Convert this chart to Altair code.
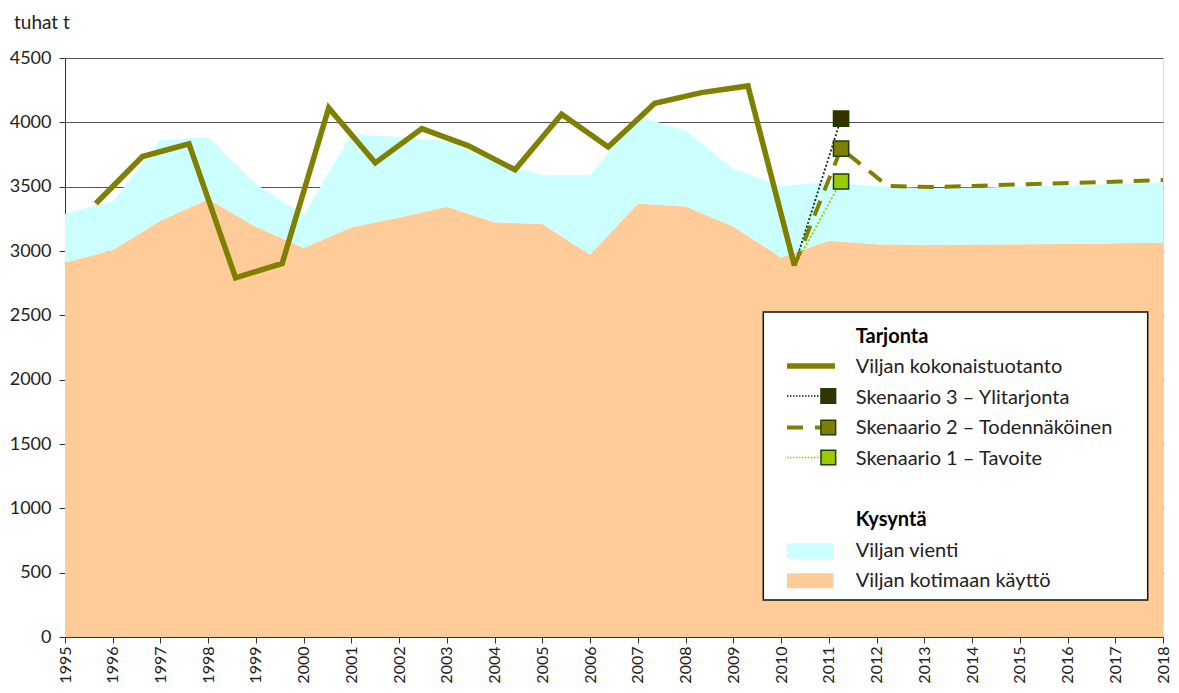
import altair as alt
import pandas as pd

# ---------------- data ----------------
years = list(range(1995, 2019))
domestic = [2911, 3007, 3235, 3403, 3188, 3023, 3185, 3260, 3343, 3224, 3209, 2971,
            3369, 3345, 3190, 2950, 3079, 3053, 3048, 3050, 3053, 3055, 3060, 3065]
export = [376, 378, 628, 481, 331, 257, 723, 626, 512, 476, 379, 617,
          681, 589, 450, 555, 455, 452, 440, 442, 447, 455, 460, 467]

prod_years = list(range(1995, 2011))
production = [3369, 3734, 3832, 2792, 2903, 4112, 3685, 3951, 3817, 3631, 4063, 3809,
              4148, 4231, 4283, 2885]

s3_years = [2010, 2011]
s3_values = [2885, 4029]
s1_years = [2010, 2011]
s1_values = [2885, 3540]
s2_years = [2010, 2011, 2012, 2013, 2014, 2015, 2016, 2017, 2018]
s2_values = [2885, 3796, 3505, 3497, 3508, 3519, 3530, 3540, 3552]

y_ticks = [0, 500, 1000, 1500, 2000, 2500, 3000, 3500, 4000, 4500]

unit_label = "tuhat t"
legend_head_supply = "Tarjonta"
legend_head_demand = "Kysyntä"
label_prod = "Viljan kokonaistuotanto"
label_s3 = "Skenaario 3 – Ylitarjonta"
label_s2 = "Skenaario 2 – Todennäköinen"
label_s1 = "Skenaario 1 – Tavoite"
label_export = "Viljan vienti"
label_domestic = "Viljan kotimaan käyttö"

# ---------------- styling ----------------
FONT = "Lato"
C_DOM = "#FFCC99"
C_EXP = "#CCFFFF"
C_PROD = "#808000"
C_S3 = "#333300"
C_S3_LINE = "#003300"
C_S1 = "#99CC00"
C_EDGE = "#1F3F00"

W, H = 1098, 579

area_df = pd.DataFrame({"year": years, "domestic": domestic, "export": export})
prod_df = pd.DataFrame({"year": prod_years, "value": production})
s3_df = pd.DataFrame({"year": s3_years, "value": s3_values})
s1_df = pd.DataFrame({"year": s1_years, "value": s1_values})
s2_df = pd.DataFrame({"year": s2_years, "value": s2_values})

yscale = alt.Scale(domain=[0, 4500], nice=False, zero=True)
xscale_area = alt.Scale(domain=[1995, 2018], nice=False, zero=False)
# secondary (hidden) category-like axis used by the line series, as in the original
xscale_line = alt.Scale(domain=[1994.338, 2017.912], nice=False, zero=False)

x_axis = alt.Axis(values=years, format="d", labelAngle=-90, labelFontSize=16,
                  labelPadding=3, tickSize=6, grid=False, labelFlush=False,
                  labelOverlap=False, title=None, labelFont=FONT,
                  domainColor="#333333", tickColor="#333333", labelColor="#222222")
y_axis = alt.Axis(values=y_ticks, format="d", labelFontSize=18, labelPadding=8,
                  tickSize=6, grid=True, gridColor="#555555", gridWidth=1, title=None,
                  labelFlush=False, labelFont=FONT, labelOverlap=False,
                  domainColor="#333333", tickColor="#333333", labelColor="#222222")

dom_area = alt.Chart(area_df).mark_area(color=C_DOM, opacity=1).encode(
    x=alt.X("year:Q", scale=xscale_area, axis=x_axis),
    y=alt.Y("domestic:Q", scale=yscale, axis=y_axis),
)
exp_area = alt.Chart(area_df).transform_calculate(
    total="datum.domestic + datum.export"
).mark_area(color=C_EXP, opacity=1).encode(
    x=alt.X("year:Q", scale=xscale_area, axis=None),
    y=alt.Y("total:Q", scale=yscale, axis=y_axis),
    y2="domestic:Q",
)


def line_layer(df, color, width, dash=None):
    kw = dict(color=color, strokeWidth=width, clip=True, strokeCap="butt")
    if dash:
        kw["strokeDash"] = dash
    return alt.Chart(df).mark_line(**kw).encode(
        x=alt.X("year:Q", scale=xscale_line, axis=None),
        y=alt.Y("value:Q", scale=yscale, axis=y_axis),
    )


prod_line = line_layer(prod_df, C_PROD, 5.5)
s3_line = line_layer(s3_df, C_S3_LINE, 1.8, [2, 2])
s1_line = line_layer(s1_df, C_S1, 1.8, [2, 2])
s2_line = line_layer(s2_df, C_PROD, 4, [16, 11])


def marker(df, year, fill):
    return alt.Chart(df).transform_filter(alt.datum.year == year).mark_square(
        size=230, filled=True, color=fill, stroke=C_EDGE, strokeWidth=1.5, opacity=1
    ).encode(
        x=alt.X("year:Q", scale=xscale_line, axis=None),
        y=alt.Y("value:Q", scale=yscale, axis=y_axis),
    )


m3 = marker(s3_df, 2011, C_S3)
m2 = marker(s2_df, 2011, C_PROD)
m1 = marker(s1_df, 2011, C_S1)

# ---------------- custom legend box ----------------
one = pd.DataFrame({"k": [0]})


def vtext(txt, x, y, bold=False, size=20, color="#222222"):
    return alt.Chart(one).mark_text(
        text=txt, align="left", baseline="alphabetic", font=FONT, fontSize=size,
        fontWeight="bold" if bold else "normal", color=color
    ).encode(x=alt.value(x), y=alt.value(y))


def vrule(x1, x2, y, color, width, dash=None):
    kw = dict(color=color, strokeWidth=width, strokeCap="butt")
    if dash:
        kw["strokeDash"] = dash
    return alt.Chart(one).mark_rule(**kw).encode(
        x=alt.value(x1), x2=alt.value(x2), y=alt.value(y))


def vsquare(x, y, fill):
    return alt.Chart(one).mark_square(size=215, filled=True, color=fill,
                                      stroke=C_EDGE, strokeWidth=1.5, opacity=1).encode(
        x=alt.value(x), y=alt.value(y))


def vrect(x1, x2, y1, y2, fill, stroke=None, sw=0):
    kw = dict(fill=fill)
    if stroke:
        kw.update(stroke=stroke, strokeWidth=sw)
    return alt.Chart(one).mark_rect(**kw).encode(
        x=alt.value(x1), x2=alt.value(x2), y=alt.value(y1), y2=alt.value(y2))


LX_TXT = 790.7
LX0, LX1 = 722, 770
SQX = 763.3

legend_layers = [
    vrect(698.3, 1082.7, 254, 542, "white", "#111111", 1.5),
    vtext(legend_head_supply, LX_TXT, 285, bold=True, color="#000000"),
    vrule(LX0, LX1, 308, C_PROD, 5.5),
    vtext(label_prod, LX_TXT, 315),
    vrule(LX0, SQX, 338, C_S3_LINE, 1.3, [1.5, 1.5]),
    vsquare(SQX, 338, C_S3),
    vtext(label_s3, LX_TXT, 346),
    vrule(LX0, SQX, 369.5, C_PROD, 4, [16, 12]),
    vsquare(SQX, 369.5, C_PROD),
    vtext(label_s2, LX_TXT, 376),
    vrule(LX0, SQX, 399.5, C_S1, 1.3, [1.5, 1.5]),
    vsquare(SQX, 399.5, C_S1),
    vtext(label_s1, LX_TXT, 406.5),
    vtext(legend_head_demand, LX_TXT, 468, bold=True, color="#000000"),
    vrect(LX0, 768.3, 485.3, 500.7, C_EXP),
    vtext(label_export, LX_TXT, 498.5),
    vrect(LX0, 768.3, 515.3, 530.3, C_DOM),
    vtext(label_domestic, LX_TXT, 529),
]

unit_text = vtext(unit_label, -51, -29, size=19)

chart = alt.layer(
    dom_area, exp_area, prod_line, s3_line, s1_line, s2_line, m3, m2, m1,
    *legend_layers, unit_text
).resolve_scale(
    x="independent"
).properties(
    width=W, height=H,
    padding={"left": 57, "top": 50, "right": 8, "bottom": 48},
    autosize=alt.AutoSizeParams(type="none"),
).configure_view(
    stroke="#888888", strokeWidth=1
).configure(
    background="white"
)

chart.save("out.html", embed_options={"renderer": "svg", "actions": False})
